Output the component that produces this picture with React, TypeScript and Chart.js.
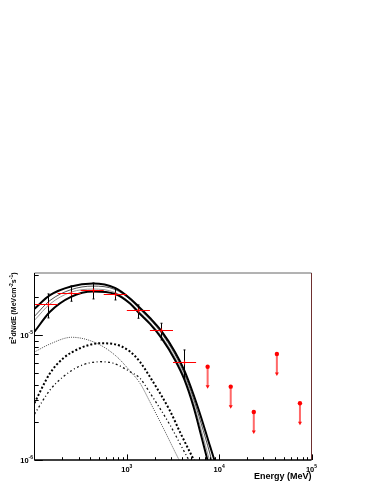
import React, { useEffect, useRef } from "react";
import { Chart, registerables } from "chart.js";

Chart.register(...registerables);

// ---- measured data points (red crosses, black error bars) ----
const pointEnergy = [141, 249, 433, 745, 1331, 2386, 4193];
const binLow = [100, 178, 316, 562, 1000, 1778, 3162];
const binHigh = [178, 316, 562, 1000, 1778, 3162, 5623];
const pointFlux = [1.738e-5, 2.157e-5, 2.262e-5, 2.117e-5, 1.556e-5, 1.082e-5, 6.05e-6];
const pointFluxLow = [1.368e-5, 1.861e-5, 1.941e-5, 1.905e-5, 1.36e-5, 9.12e-6, 4.53e-6];
const pointFluxHigh = [2.13e-5, 2.466e-5, 2.606e-5, 2.355e-5, 1.738e-5, 1.241e-5, 7.59e-6];

// ---- upper limits ----
const ulEnergy = [7500, 13340, 23710, 42170, 74990];
const ulFlux = [5.57e-6, 3.86e-6, 2.42e-6, 7.05e-6, 2.84e-6];
const ulArrowRatio = 0.667;

// ---- fitted spectrum band ----
const fitEnergy = [100, 147.2, 248.5, 430.2, 744.6, 1082, 1354, 1782, 2386, 3324, 4193, 5248, 6358, 7958, 9015];
const fitUpper = [1.621e-5, 2.081e-5, 2.443e-5, 2.577e-5, 2.377e-5, 1.959e-5, 1.675e-5, 1.368e-5, 1.067e-5, 7.31e-6, 5.2e-6, 3.37e-6, 2.21e-6, 1.29e-6, 9.64e-7];
const fitLower = [1.061e-5, 1.533e-5, 2.017e-5, 2.224e-5, 2.128e-5, 1.786e-5, 1.5e-5, 1.225e-5, 9.38e-6, 6.31e-6, 4.41e-6, 2.7e-6, 1.585e-6, 8.32e-7, 5.8e-7];
const fitMidA = [1.411e-5, 1.888e-5, 2.303e-5, 2.46e-5, 2.312e-5, 1.923e-5, 1.629e-5, 1.33e-5, 1.028e-5, 6.98e-6, 4.92e-6, 3.13e-6, 1.977e-6, 1.117e-6, 7.73e-7];
const fitMidB = [1.311e-5, 1.77e-5, 2.199e-5, 2.328e-5, 2.188e-5, 1.82e-5, 1.542e-5, 1.259e-5, 9.73e-6, 6.61e-6, 4.66e-6, 2.91e-6, 1.77e-6, 9.64e-7, 7.18e-7];

// ---- model components ----
const compAEnergy = [100, 147.2, 252.9, 471.8, 777, 1082, 1389, 1782, 2483, 3609, 4000];
const compAFlux = [7.31e-6, 8.47e-6, 9.58e-6, 8.58e-6, 6.71e-6, 5.15e-6, 4.11e-6, 2.91e-6, 1.8e-6, 1.03e-6, 8.9e-7];
const compBEnergy = [100, 147.2, 205.1, 311.1, 512.3, 713.7, 1082, 1389, 1782, 2934, 3766, 5248, 6200];
const compBFlux = [2.86e-6, 4.94e-6, 6.51e-6, 7.83e-6, 8.58e-6, 8.47e-6, 7.38e-6, 6.08e-6, 4.61e-6, 2.47e-6, 1.67e-6, 1.02e-6, 8.0e-7];
const compCEnergy = [100, 147.2, 205.1, 311.1, 512.3, 713.7, 1082, 1389, 1782, 2934, 4597, 5500];
const compCFlux = [2.33e-6, 3.63e-6, 4.64e-6, 5.65e-6, 6.11e-6, 5.94e-6, 5.09e-6, 4.5e-6, 3.44e-6, 1.905e-6, 1.03e-6, 8.36e-7];

// ---- axes ----
const xMin = 100;
const xMax = 1e5;
const yMin = 1e-6;
const yMax = 3.13e-5;
const xTickValues = [1e3, 1e4, 1e5];
const xTickExps = ["3", "4", "5"];
const yTickValues = [1e-6, 1e-5];
const yTickExps = ["-6", "-5"];
const minorMultipliers = [2, 3, 4, 5, 6, 7, 8, 9];
const xTitle = "Energy (MeV)";
const yTitleParts: [string, boolean][] = [
  ["E", false],
  ["2", true],
  ["dN/dE (MeVcm", false],
  ["-2", true],
  ["s", false],
  ["-1", true],
  [")", false],
];

const FONT = '"Liberation Sans", Arial, Helvetica, sans-serif';

const pts = (xs: number[], ys: number[]) => xs.map((x, i) => ({ x, y: ys[i] }));
const snap = (v: number) => Math.round(v - 0.5) + 0.5;

function drawRich(
  ctx: CanvasRenderingContext2D,
  parts: [string, boolean][],
  x: number,
  y: number,
  align: "left" | "center" | "right",
  size: number,
  supSize: number,
  raise: number
) {
  const base = `bold ${size}px ${FONT}`;
  const sup = `bold ${supSize}px ${FONT}`;
  let total = 0;
  const widths = parts.map(([t, s]) => {
    ctx.font = s ? sup : base;
    const w = ctx.measureText(t).width;
    total += w;
    return w;
  });
  let cx = align === "left" ? x : align === "center" ? x - total / 2 : x - total;
  ctx.textAlign = "left";
  ctx.textBaseline = "alphabetic";
  parts.forEach(([t, s], i) => {
    ctx.font = s ? sup : base;
    ctx.fillText(t, cx, s ? y - raise : y);
    cx += widths[i];
  });
}

const decorPlugin = {
  id: "rootDecor",
  beforeDatasetsDraw(chart: any) {
    const { ctx, chartArea: ca } = chart;
    const xs = chart.scales.x;
    const ys = chart.scales.y;
    ctx.save();
    ctx.beginPath();
    ctx.rect(ca.left, ca.top, ca.right - ca.left, ca.bottom - ca.top);
    ctx.clip();
    for (let i = 0; i < ulEnergy.length; i++) {
      const px = xs.getPixelForValue(ulEnergy[i]);
      const pt = ys.getPixelForValue(ulFlux[i]);
      const pb = ys.getPixelForValue(ulFlux[i] * ulArrowRatio);
      ctx.strokeStyle = "rgba(255,40,40,0.7)";
      ctx.lineWidth = 2;
      ctx.beginPath();
      ctx.moveTo(px, pt);
      ctx.lineTo(px, pb - 2.5);
      ctx.stroke();
      ctx.fillStyle = "#ff1010";
      ctx.beginPath();
      ctx.moveTo(px - 2, pb - 3.5);
      ctx.lineTo(px + 2, pb - 3.5);
      ctx.lineTo(px, pb);
      ctx.closePath();
      ctx.fill();
    }
    ctx.restore();
  },
  afterDatasetsDraw(chart: any) {
    const { ctx, chartArea: ca } = chart;
    const xs = chart.scales.x;
    const ys = chart.scales.y;
    ctx.save();
    ctx.beginPath();
    ctx.rect(ca.left, ca.top, ca.right - ca.left, ca.bottom - ca.top);
    ctx.clip();
    for (let i = 0; i < pointEnergy.length; i++) {
      const px = snap(xs.getPixelForValue(pointEnergy[i]));
      const py = snap(ys.getPixelForValue(pointFlux[i]));
      const yh = ys.getPixelForValue(pointFluxHigh[i]);
      const yl = ys.getPixelForValue(pointFluxLow[i]);
      ctx.strokeStyle = "#ff0000";
      ctx.lineWidth = 1.2;
      ctx.beginPath();
      ctx.moveTo(xs.getPixelForValue(binLow[i]), py);
      ctx.lineTo(xs.getPixelForValue(binHigh[i]), py);
      ctx.stroke();
      ctx.strokeStyle = "#000";
      ctx.lineWidth = 1;
      ctx.beginPath();
      ctx.moveTo(px, yh);
      ctx.lineTo(px, yl);
      ctx.moveTo(px - 1, yh);
      ctx.lineTo(px + 1, yh);
      ctx.moveTo(px - 1, yl);
      ctx.lineTo(px + 1, yl);
      ctx.stroke();
      ctx.strokeStyle = "#ff0000";
      ctx.lineWidth = 1.2;
      ctx.beginPath();
      ctx.moveTo(px, py - 2);
      ctx.lineTo(px, py + 2);
      ctx.stroke();
    }
    ctx.restore();
  },
  afterDraw(chart: any) {
    const { ctx, chartArea: ca } = chart;
    const xs = chart.scales.x;
    const ys = chart.scales.y;
    ctx.save();
    // frame
    ctx.lineWidth = 1;
    ctx.strokeStyle = "#666";
    ctx.beginPath();
    ctx.moveTo(ca.left, ca.top);
    ctx.lineTo(ca.right, ca.top);
    ctx.stroke();
    ctx.strokeStyle = "#6e3030";
    ctx.beginPath();
    ctx.moveTo(ca.right, ca.top);
    ctx.lineTo(ca.right, ca.bottom);
    ctx.stroke();
    ctx.strokeStyle = "#000";
    ctx.beginPath();
    ctx.moveTo(ca.left, ca.top);
    ctx.lineTo(ca.left, ca.bottom);
    ctx.stroke();
    ctx.lineWidth = 1.5;
    ctx.beginPath();
    ctx.moveTo(ca.left, ca.bottom);
    ctx.lineTo(ca.right, ca.bottom);
    ctx.stroke();

    // ticks
    ctx.lineWidth = 1;
    ctx.strokeStyle = "#000";
    ctx.beginPath();
    for (let d = xMin; d < xMax; d *= 10) {
      for (const m of minorMultipliers) {
        const v = d * m;
        if (v > xMax) continue;
        const px = Math.round(xs.getPixelForValue(v)) + 0.5;
        ctx.moveTo(px, ca.bottom);
        ctx.lineTo(px, ca.bottom - 2.8);
      }
    }
    for (const v of xTickValues) {
      const px = Math.round(xs.getPixelForValue(v)) + 0.5;
      ctx.moveTo(px, ca.bottom);
      ctx.lineTo(px, ca.bottom - 5.6);
    }
    for (let d = yMin; d < yMax; d *= 10) {
      for (const m of minorMultipliers) {
        const v = d * m;
        if (v > yMax) continue;
        const py = Math.round(ys.getPixelForValue(v)) + 0.5;
        ctx.moveTo(ca.left, py);
        ctx.lineTo(ca.left + 4.2, py);
      }
    }
    for (const v of yTickValues) {
      const py = Math.round(ys.getPixelForValue(v)) + 0.5;
      ctx.moveTo(ca.left, py);
      ctx.lineTo(ca.left + 8.3, py);
    }
    ctx.stroke();

    // tick labels
    ctx.fillStyle = "#000";
    xTickValues.forEach((v, i) => {
      const px = xs.getPixelForValue(v);
      drawRich(ctx, [["10", false], [xTickExps[i], true]], px, ca.bottom + 11.7, "center", 7.5, 5, 3.3);
    });
    yTickValues.forEach((v, i) => {
      const py = ys.getPixelForValue(v);
      drawRich(ctx, [["10", false], [yTickExps[i], true]], ca.left - 1.5, py + 2.7, "right", 7.5, 5, 3.3);
    });

    // axis titles
    ctx.font = `bold 9px ${FONT}`;
    ctx.textAlign = "right";
    ctx.textBaseline = "alphabetic";
    ctx.fillText(xTitle, ca.right, 478.5);

    ctx.save();
    ctx.translate(16, ca.top - 0.5);
    ctx.rotate(-Math.PI / 2);
    drawRich(ctx, yTitleParts, 0, 0, "right", 7, 5, 3);
    ctx.restore();

    ctx.restore();
  },
};

export default function App() {
  const ref = useRef<HTMLCanvasElement>(null);
  useEffect(() => {
    const canvas = ref.current;
    if (!canvas) return;
    const lineDs = (label: string, xs: number[], ys: number[], extra: any) => ({
      type: "line",
      label,
      data: pts(xs, ys),
      fill: false,
      pointRadius: 0,
      cubicInterpolationMode: "monotone",
      clip: 0,
      borderCapStyle: "butt",
      ...extra,
    });
    const chart = new Chart(canvas, {
      type: "line",
      data: {
        datasets: [
          {
            type: "scatter",
            label: "upper limits",
            data: pts(ulEnergy, ulFlux),
            pointRadius: 2.2,
            pointBackgroundColor: "#ff0000",
            pointBorderWidth: 0,
            showLine: false,
            clip: 0,
          } as any,
          lineDs("fit upper", fitEnergy, fitUpper, { borderColor: "#000", borderWidth: 2 }),
          lineDs("fit lower", fitEnergy, fitLower, { borderColor: "#000", borderWidth: 2 }),
          lineDs("fit mid a", fitEnergy, fitMidA, { borderColor: "#222", borderWidth: 0.8 }),
          lineDs("fit mid b", fitEnergy, fitMidB, { borderColor: "#999", borderWidth: 1 }),
          lineDs("component A", compAEnergy, compAFlux, { borderColor: "#444", borderWidth: 1, borderDash: [1, 1.2] }),
          lineDs("component B", compBEnergy, compBFlux, { borderColor: "#000", borderWidth: 2, borderDash: [2, 2] }),
          lineDs("component C", compCEnergy, compCFlux, { borderColor: "#111", borderWidth: 1.3, borderDash: [2, 2.5, 1, 2.5] }),
        ] as any,
      },
      options: {
        responsive: false,
        animation: false,
        events: [],
        layout: { padding: { left: 34.5, top: 273, right: 374 - 311.5, bottom: 484 - 460 } },
        plugins: { legend: { display: false }, tooltip: { enabled: false } },
        scales: {
          x: { type: "logarithmic", min: xMin, max: xMax, bounds: "data", display: false },
          y: { type: "logarithmic", min: yMin, max: yMax, bounds: "data", display: false },
        },
      } as any,
      plugins: [decorPlugin as any],
    });
    return () => chart.destroy();
  }, []);
  return (
    <div style={{ position: "absolute", left: 0, top: 0, width: 374, height: 484, background: "#fff" }}>
      <canvas ref={ref} width={374} height={484} style={{ display: "block", width: 374, height: 484 }} />
    </div>
  );
}
